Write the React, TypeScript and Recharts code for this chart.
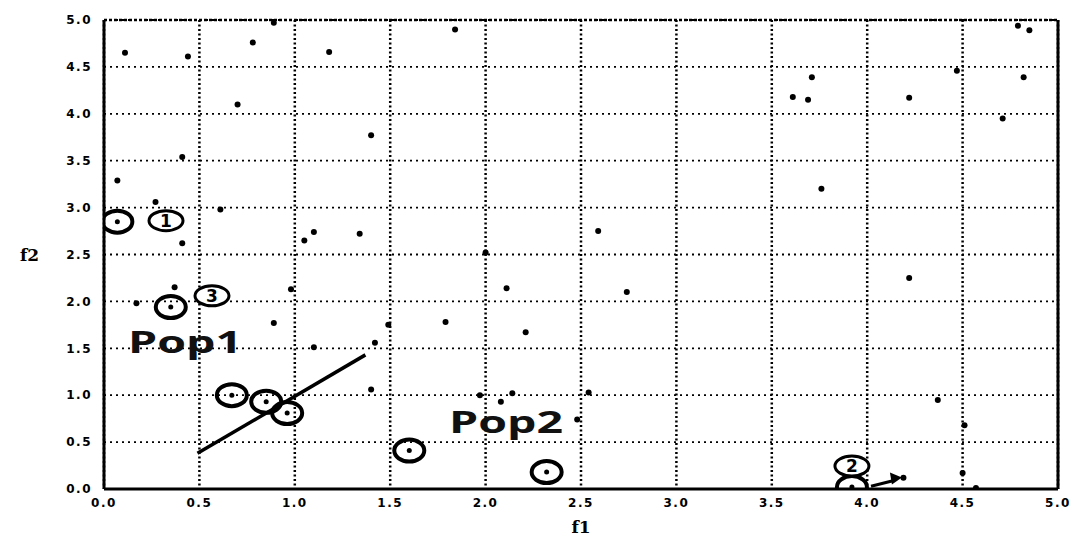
import React from 'react';
import { ScatterChart, Scatter, XAxis, YAxis, CartesianGrid, ReferenceLine } from 'recharts';

const xTicks = [0, 0.5, 1, 1.5, 2, 2.5, 3, 3.5, 4, 4.5, 5];
const yTicks = [0, 0.5, 1, 1.5, 2, 2.5, 3, 3.5, 4, 4.5, 5];

const backgroundPoints = [
  { x: 0.11, y: 4.65 }, { x: 0.44, y: 4.61 }, { x: 0.78, y: 4.76 }, { x: 0.89, y: 4.97 },
  { x: 1.18, y: 4.66 }, { x: 0.70, y: 4.10 }, { x: 0.41, y: 3.54 }, { x: 0.07, y: 3.29 },
  { x: 0.27, y: 3.06 }, { x: 0.61, y: 2.98 }, { x: 0.41, y: 2.62 }, { x: 1.10, y: 2.74 },
  { x: 1.05, y: 2.65 }, { x: 1.34, y: 2.72 }, { x: 1.84, y: 4.90 }, { x: 1.40, y: 3.77 },
  { x: 2.59, y: 2.75 }, { x: 2.00, y: 2.52 }, { x: 4.79, y: 4.94 }, { x: 4.85, y: 4.89 },
  { x: 3.71, y: 4.39 }, { x: 3.61, y: 4.18 }, { x: 3.69, y: 4.15 }, { x: 4.22, y: 4.17 },
  { x: 4.47, y: 4.46 }, { x: 4.82, y: 4.39 }, { x: 4.71, y: 3.95 }, { x: 3.76, y: 3.20 },
  { x: 0.37, y: 2.15 }, { x: 0.17, y: 1.98 }, { x: 0.98, y: 2.13 }, { x: 0.89, y: 1.77 },
  { x: 1.10, y: 1.51 }, { x: 2.11, y: 2.14 }, { x: 2.74, y: 2.10 }, { x: 1.79, y: 1.78 },
  { x: 1.49, y: 1.75 }, { x: 2.21, y: 1.67 }, { x: 1.42, y: 1.56 }, { x: 1.40, y: 1.06 },
  { x: 1.97, y: 1.00 }, { x: 2.14, y: 1.02 }, { x: 2.08, y: 0.93 }, { x: 2.54, y: 1.03 },
  { x: 2.48, y: 0.74 }, { x: 4.22, y: 2.25 }, { x: 4.37, y: 0.95 }, { x: 4.51, y: 0.68 },
  { x: 4.50, y: 0.17 }, { x: 4.19, y: 0.12 }, { x: 4.57, y: 0.01 },
];

const circledPoints = [
  { x: 0.07, y: 2.85 }, { x: 0.35, y: 1.94 }, { x: 0.67, y: 1.00 }, { x: 0.85, y: 0.93 },
  { x: 0.96, y: 0.81 }, { x: 1.60, y: 0.41 }, { x: 2.32, y: 0.18 }, { x: 3.92, y: 0.02 },
];

const numberLabels = [
  { x: 0.325, y: 2.86, label: '1' },
  { x: 3.92, y: 0.245, label: '2' },
  { x: 0.566, y: 2.06, label: '3' },
];

const populationLabels = [
  { x: 0.425, y: 1.45, label: 'Pop1' },
  { x: 2.107, y: 0.60, label: 'Pop2' },
];

const separatorLine = [{ x: 0.49, y: 0.38 }, { x: 1.37, y: 1.43 }];
const arrowLine = [{ x: 4.02, y: 0.03 }, { x: 4.14, y: 0.09 }];

const fmt = (v: number) => v.toFixed(1);

const tickStyle = { fill: '#000', fontSize: 12, fontWeight: 700, fontFamily: 'DejaVu Sans', letterSpacing: 1.5 };

const DotShape = (p: any) => <circle cx={p.cx} cy={p.cy} r={3} fill="#000" />;

const CircledShape = (p: any) => (
  <g>
    <ellipse cx={p.cx} cy={p.cy} rx={15} ry={11} fill="none" stroke="#000" strokeWidth={4} />
    <circle cx={p.cx} cy={p.cy} r={2.5} fill="#000" />
  </g>
);

const NumberShape = (p: any) => (
  <g>
    <ellipse cx={p.cx} cy={p.cy} rx={17} ry={10} fill="#fff" stroke="#000" strokeWidth={3} />
    <text x={p.cx} y={p.cy} textAnchor="middle" dominantBaseline="central" fontSize={17} fontWeight={700} fontFamily="DejaVu Sans" fill="#000">
      {p.payload.label}
    </text>
  </g>
);

const PopShape = (p: any) => (
  <text
    x={0}
    y={0}
    transform={`translate(${p.cx},${p.cy}) scale(1.55,1)`}
    textAnchor="middle"
    fontSize={30}
    fontWeight={700}
    fontFamily="Open Sans"
    fill="#111"
  >
    {p.payload.label}
  </text>
);

const ArrowShape = (p: any) => {
  if (p.index !== 1) return <g />;
  const { cx, cy } = p;
  return <polygon points={`${cx + 8},${cy - 3} ${cx - 4},${cy - 8} ${cx - 2},${cy + 4}`} fill="#000" />;
};

export default function App() {
  return (
    <div style={{ position: 'absolute', left: 0, top: 0, background: '#fff' }}>
      <ScatterChart width={1072} height={541} margin={{ top: 20, right: 14, bottom: 0, left: 0 }}>
        <CartesianGrid horizontal={false} stroke="#000" strokeWidth={2.5} strokeDasharray="2 2.5" verticalValues={xTicks} />
        <CartesianGrid vertical={false} stroke="#000" strokeWidth={1.8} strokeDasharray="2 4" horizontalValues={yTicks} />
        <XAxis
          type="number"
          dataKey="x"
          domain={[0, 5]}
          ticks={xTicks}
          tickFormatter={fmt}
          height={52}
          tickLine={false}
          tickSize={0}
          tickMargin={9}
          axisLine={{ stroke: '#000', strokeWidth: 3 }}
          tick={tickStyle}
          allowDataOverflow
          label={{ value: 'f1', position: 'insideBottom', offset: 8, fill: '#000', fontSize: 17, fontWeight: 700, fontFamily: 'DejaVu Serif' }}
        />
        <YAxis
          type="number"
          dataKey="y"
          domain={[0, 5]}
          ticks={yTicks}
          tickFormatter={fmt}
          width={104}
          tickLine={false}
          tickSize={0}
          tickMargin={12}
          axisLine={{ stroke: '#000', strokeWidth: 3 }}
          tick={tickStyle}
          allowDataOverflow
          label={{ value: 'f2', position: 'insideLeft', offset: 20, fill: '#000', fontSize: 17, fontWeight: 700, fontFamily: 'DejaVu Serif' }}
        />
        <ReferenceLine x={5} stroke="#000" strokeWidth={3} />
        <ReferenceLine y={5} stroke="#000" strokeWidth={2.5} strokeDasharray="3 2" />
        <ReferenceLine segment={separatorLine} stroke="#000" strokeWidth={3.5} />
        <Scatter data={backgroundPoints} shape={DotShape} isAnimationActive={false} />
        <Scatter data={circledPoints} shape={CircledShape} isAnimationActive={false} />
        <Scatter data={arrowLine} line={{ stroke: '#000', strokeWidth: 3 }} shape={ArrowShape} isAnimationActive={false} />
        <Scatter data={numberLabels} shape={NumberShape} isAnimationActive={false} />
        <Scatter data={populationLabels} shape={PopShape} isAnimationActive={false} />
      </ScatterChart>
    </div>
  );
}
